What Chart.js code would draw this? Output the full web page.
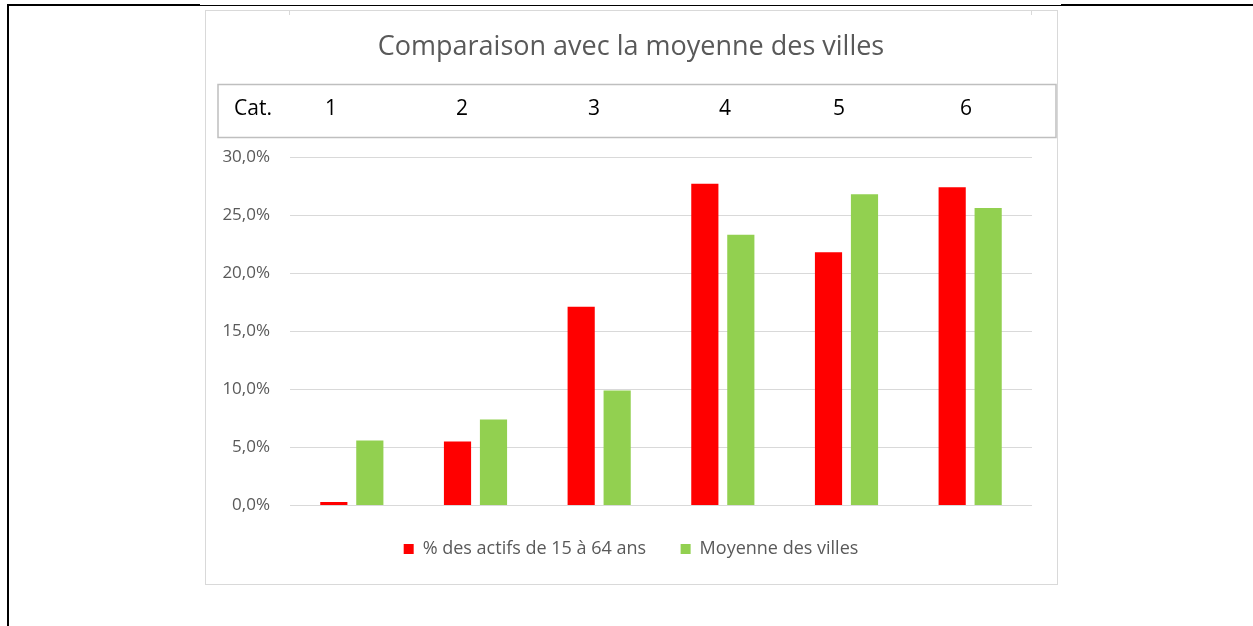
<!DOCTYPE html>
<html>
<head>
<meta charset="utf-8">
<script src="https://cdn.jsdelivr.net/npm/chart.js@4"></script>
<style>
html, body { margin: 0; padding: 0; background: #fff; }
#graf { display: block; }
</style>
</head>
<body>
<canvas id="graf" width="1253" height="626"></canvas>
<script>
const categories = ['1', '2', '3', '4', '5', '6'];
const actifs = [0.3, 5.5, 17.1, 27.7, 21.8, 27.4];
const moyenneVilles = [5.6, 7.4, 9.9, 23.3, 26.8, 25.6];
const yTickLabels = ['0,0%', '5,0%', '10,0%', '15,0%', '20,0%', '25,0%', '30,0%'];
const serieNames = ['% des actifs de 15 à 64 ans', 'Moyenne des villes'];

// x of the "Cat." line texts (text box, not aligned with bars)
const catX = [331, 462, 594, 725, 839, 966];

Chart.defaults.font.family = "'Open Sans', sans-serif";
Chart.defaults.color = '#595959';

// page frame + chart border + "Cat." box
const cadre = {
  id: 'cadre',
  beforeDraw(chart) {
    const ctx = chart.ctx;
    const area = chart.chartArea;
    ctx.save();
    ctx.fillStyle = '#fff';
    ctx.fillRect(0, 0, chart.width, chart.height);

    ctx.fillStyle = '#000';
    ctx.fillRect(7, 4, 193, 2);
    ctx.fillRect(200, 5, 861, 1);
    ctx.fillRect(1061, 4, 192, 2);
    ctx.fillRect(7, 4, 2, 622);

    ctx.strokeStyle = '#d9d9d9';
    ctx.lineWidth = 1;
    ctx.strokeRect(205.5, 10.5, 852, 574);
    ctx.beginPath();
    ctx.moveTo(Math.round(area.left) - 0.5, 11);
    ctx.lineTo(Math.round(area.left) - 0.5, 15);
    ctx.moveTo(Math.round(area.right) - 0.5, 11);
    ctx.lineTo(Math.round(area.right) - 0.5, 15);
    ctx.stroke();

    ctx.strokeStyle = '#bfbfbf';
    ctx.lineWidth = 1.5;
    ctx.strokeRect(218, 84.5, 838, 53);
    ctx.fillStyle = '#000';
    ctx.font = "21px 'Open Sans'";
    ctx.textAlign = 'center';
    ctx.textBaseline = 'middle';
    ctx.fillText('Cat.', 253, 109);
    for (let i = 0; i < categories.length; i++) {
      ctx.fillText(categories[i], catX[i], 109);
    }
    ctx.restore();
  }
};

new Chart(document.getElementById('graf'), {
  type: 'bar',
  data: {
    labels: categories,
    datasets: [{
      label: serieNames[0],
      data: actifs,
      backgroundColor: '#ff0000',
      borderWidth: 0
    }, {
      label: serieNames[1],
      data: moyenneVilles,
      backgroundColor: '#92d050',
      borderWidth: 0
    }]
  },
  options: {
    responsive: false,
    animation: false,
    categoryPercentage: 0.582,
    barPercentage: 0.755,
    layout: { padding: { left: 205, right: 196, top: 10, bottom: 58 } },
    plugins: {
      title: {
        display: true,
        text: 'Comparaison avec la moyenne des villes',
        color: '#595959',
        font: { size: 27, weight: 'normal' },
        padding: { top: 21, bottom: 93.6 }
      },
      legend: {
        position: 'bottom',
        fullSize: true,
        labels: {
          boxWidth: 10,
          boxHeight: 10,
          padding: 34.5,
          color: '#595959',
          font: { size: 18 }
        }
      },
      tooltip: { enabled: false }
    },
    scales: {
      x: { display: false },
      y: {
        min: 0,
        max: 30,
        ticks: {
          stepSize: 5,
          padding: 20,
          color: '#595959',
          font: { size: 17 },
          callback: (v, i) => yTickLabels[i]
        },
        grid: { color: '#d9d9d9', drawTicks: false },
        border: { display: false },
        afterFit: s => { s.width = 85; }
      },
      y2: {
        position: 'right',
        grid: { display: false },
        ticks: { display: false },
        border: { display: false },
        afterFit: s => { s.width = 25; }
      }
    }
  },
  plugins: [cadre]
});
</script>
</body>
</html>
